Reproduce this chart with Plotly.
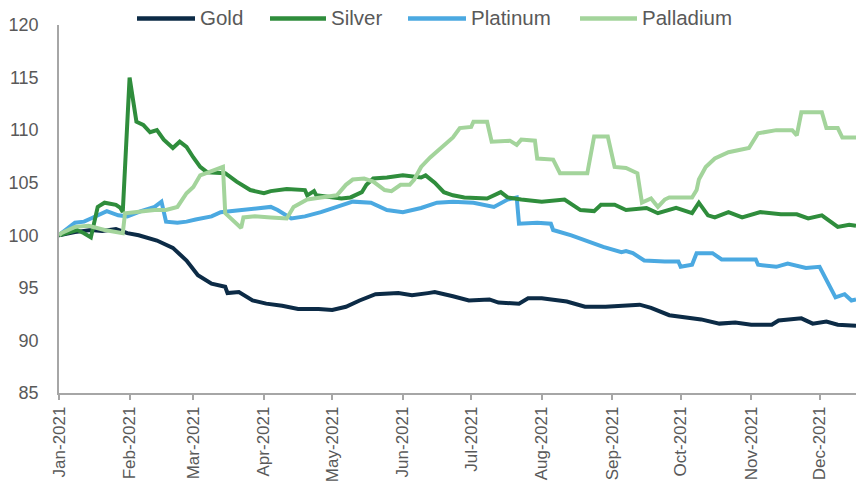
import plotly.graph_objects as go

# ---------------- data ----------------
gold_dates = ["2021-01-01","2021-01-08","2021-01-15","2021-01-20","2021-01-26","2021-01-31",
    "2021-02-05","2021-02-13","2021-02-20","2021-02-26","2021-03-03","2021-03-09","2021-03-15",
    "2021-03-16","2021-03-21","2021-03-27","2021-04-02","2021-04-09","2021-04-16","2021-04-25",
    "2021-05-01","2021-05-07","2021-05-13","2021-05-20","2021-05-30","2021-06-05","2021-06-12",
    "2021-06-15","2021-06-23","2021-06-30","2021-07-09","2021-07-13","2021-07-22","2021-07-26",
    "2021-08-01","2021-08-12","2021-08-20","2021-08-29","2021-09-13","2021-09-18","2021-09-26",
    "2021-10-03","2021-10-10","2021-10-18","2021-10-25","2021-11-01","2021-11-10","2021-11-13",
    "2021-11-23","2021-11-28","2021-12-04","2021-12-09","2021-12-15","2021-12-17"]
gold_values = [100.0,100.3,100.5,100.4,100.6,100.2,
    100.0,99.5,98.8,97.6,96.2,95.4,95.1,
    94.5,94.6,93.8,93.5,93.3,93.0,93.0,
    92.9,93.2,93.8,94.4,94.5,94.3,94.5,
    94.6,94.2,93.8,93.9,93.6,93.5,94.0,
    94.0,93.7,93.2,93.2,93.4,93.1,92.4,
    92.2,92.0,91.6,91.7,91.5,91.5,91.9,
    92.1,91.6,91.8,91.5,91.4,91.4]

silver_dates = ["2021-01-01","2021-01-09","2021-01-12","2021-01-15","2021-01-18","2021-01-21",
    "2021-01-26","2021-01-28","2021-01-29","2021-02-01","2021-02-04","2021-02-07","2021-02-10",
    "2021-02-13","2021-02-16","2021-02-20","2021-02-23","2021-02-26","2021-03-01","2021-03-04",
    "2021-03-07","2021-03-13","2021-03-15","2021-03-20","2021-03-26","2021-04-01","2021-04-04",
    "2021-04-11","2021-04-19","2021-04-20","2021-04-23","2021-04-24","2021-05-03","2021-05-05",
    "2021-05-09","2021-05-14","2021-05-16","2021-05-19","2021-05-25","2021-06-01","2021-06-09",
    "2021-06-11","2021-06-15","2021-06-19","2021-06-23","2021-06-28","2021-07-08","2021-07-14",
    "2021-07-17","2021-07-23","2021-08-01","2021-08-11","2021-08-18","2021-08-24","2021-08-27",
    "2021-09-02","2021-09-07","2021-09-16","2021-09-21","2021-09-24","2021-09-29","2021-10-06",
    "2021-10-09","2021-10-13","2021-10-16","2021-10-22","2021-10-28","2021-11-05","2021-11-14",
    "2021-11-21","2021-11-26","2021-12-02","2021-12-09","2021-12-14","2021-12-17"]
silver_values = [100.0,100.5,100.2,99.8,102.7,103.1,
    102.9,102.6,102.2,115.0,110.8,110.5,109.8,
    110.0,109.1,108.3,108.9,108.4,107.4,106.5,
    106.0,105.9,105.9,105.1,104.3,104.0,104.2,
    104.4,104.3,103.8,104.2,103.8,103.6,103.5,
    103.6,104.1,104.8,105.4,105.5,105.7,105.5,
    105.7,105.0,104.1,103.8,103.6,103.5,104.1,
    103.6,103.4,103.2,103.4,102.4,102.3,102.9,
    102.9,102.4,102.6,102.1,102.3,102.6,102.1,
    103.1,101.9,101.7,102.2,101.7,102.2,102.0,
    102.0,101.6,101.9,100.8,101.0,100.9]

platinum_dates = ["2021-01-01","2021-01-02","2021-01-08","2021-01-12","2021-01-15","2021-01-20",
    "2021-01-22","2021-01-27","2021-01-31","2021-02-06","2021-02-12","2021-02-15","2021-02-17",
    "2021-02-22","2021-02-26","2021-03-02","2021-03-09","2021-03-13","2021-03-22","2021-03-28",
    "2021-04-04","2021-04-07","2021-04-13","2021-04-19","2021-04-26","2021-05-03","2021-05-10",
    "2021-05-18","2021-05-25","2021-06-01","2021-06-09","2021-06-16","2021-06-23","2021-07-02",
    "2021-07-11","2021-07-17","2021-07-21","2021-07-22","2021-07-30","2021-08-05","2021-08-06",
    "2021-08-14","2021-08-21","2021-08-28","2021-09-05","2021-09-07","2021-09-10","2021-09-15",
    "2021-09-24","2021-09-30","2021-10-01","2021-10-06","2021-10-08","2021-10-15","2021-10-19",
    "2021-11-03","2021-11-04","2021-11-12","2021-11-17","2021-11-25","2021-12-01","2021-12-08",
    "2021-12-12","2021-12-15","2021-12-17"]
platinum_values = [100.0,100.2,101.2,101.3,101.6,102.1,
    102.3,101.9,101.8,102.3,102.7,103.2,101.3,
    101.2,101.3,101.5,101.8,102.2,102.4,102.6,
    102.7,102.4,101.6,101.8,102.2,102.7,103.2,
    103.1,102.4,102.2,102.6,103.1,103.2,103.1,
    102.7,103.4,103.6,101.1,101.2,101.1,100.5,
    100.0,99.4,98.9,98.4,98.5,98.3,97.6,
    97.5,97.5,97.0,97.2,98.3,98.3,97.7,
    97.7,97.2,97.0,97.3,96.9,97.0,94.1,
    94.4,93.8,93.9]

palladium_dates = ["2021-01-01","2021-01-02","2021-01-08","2021-01-14","2021-01-21","2021-01-29",
    "2021-01-30","2021-02-06","2021-02-12","2021-02-17","2021-02-22","2021-02-26","2021-03-01",
    "2021-03-04","2021-03-10","2021-03-14","2021-03-15","2021-03-18","2021-03-22","2021-03-23",
    "2021-03-28","2021-04-04","2021-04-11","2021-04-14","2021-04-20","2021-04-26","2021-05-03",
    "2021-05-07","2021-05-10","2021-05-15","2021-05-19","2021-05-24","2021-05-27","2021-05-31",
    "2021-06-04","2021-06-06","2021-06-09","2021-06-13","2021-06-18","2021-06-23","2021-06-26",
    "2021-07-01","2021-07-02","2021-07-08","2021-07-10","2021-07-18","2021-07-21","2021-07-23",
    "2021-07-29","2021-07-30","2021-08-06","2021-08-09","2021-08-21","2021-08-24","2021-08-30",
    "2021-09-02","2021-09-07","2021-09-12","2021-09-14","2021-09-18","2021-09-21","2021-09-24",
    "2021-09-26","2021-10-06","2021-10-08","2021-10-09","2021-10-12","2021-10-16","2021-10-22",
    "2021-10-31","2021-11-04","2021-11-12","2021-11-19","2021-11-21","2021-11-23","2021-12-02",
    "2021-12-04","2021-12-09","2021-12-11","2021-12-17"]
palladium_values = [100.0,100.2,100.8,100.9,100.5,100.2,
    102.1,102.3,102.4,102.4,102.7,104.0,104.6,
    105.7,106.2,106.5,102.1,101.5,100.7,101.7,
    101.8,101.7,101.6,102.7,103.4,103.6,103.8,
    104.8,105.3,105.4,105.1,104.3,104.2,104.8,
    104.8,105.3,106.5,107.4,108.3,109.3,110.2,
    110.3,110.8,110.8,108.9,109.0,108.6,109.1,
    109.0,107.3,107.2,105.9,105.9,109.4,109.4,
    106.5,106.4,105.9,103.1,103.5,102.7,103.4,
    103.6,103.6,104.3,105.3,106.5,107.3,107.9,
    108.3,109.7,110.0,110.0,109.5,111.7,111.7,
    110.2,110.2,109.3,109.3]

series_names = ["Gold", "Silver", "Platinum", "Palladium"]
month_ticks = ["2021-01-01","2021-02-01","2021-03-01","2021-04-01","2021-05-01","2021-06-01",
    "2021-07-01","2021-08-01","2021-09-01","2021-10-01","2021-11-01","2021-12-01"]
month_labels = ["Jan-2021","Feb-2021","Mar-2021","Apr-2021","May-2021","Jun-2021",
    "Jul-2021","Aug-2021","Sep-2021","Oct-2021","Nov-2021","Dec-2021"]
y_ticks = [85, 90, 95, 100, 105, 110, 115, 120]

# ---------------- styling / layout ----------------
colors = {"Gold": "#0c2b46", "Silver": "#2f8d3c", "Platinum": "#4ba9e1", "Palladium": "#a3d49b"}
data = {"Gold": (gold_dates, gold_values), "Silver": (silver_dates, silver_values),
        "Platinum": (platinum_dates, platinum_values), "Palladium": (palladium_dates, palladium_values)}

W, H = 856, 481
ML, MR, MT, MB = 59, 0, 25, 88
PW, PH = W - ML - MR, H - MT - MB
font_col = "#595959"
FONT = "Liberation Sans, Arial, sans-serif"

fig = go.Figure()
# draw order like the reference: gold, platinum, silver, palladium on top
for name in ["Gold", "Platinum", "Silver", "Palladium"]:
    d, v = data[name]
    fig.add_trace(go.Scatter(x=d, y=v, name=name, mode="lines",
                             line=dict(color=colors[name], width=4), showlegend=False))

# manual legend (long swatches, as in the reference); positions given in screen pixels
def px(xs):
    return (xs - ML) / PW

def py(ys):
    return (H - MB - ys) / PH

legend_pos = [(137, 195, 198), (270, 326, 329), (408, 466, 469), (580, 637, 640)]
shapes, annotations = [], []
for name, (s0, s1, tx) in zip(series_names, legend_pos):
    shapes.append(dict(type="line", xref="paper", yref="paper",
                       x0=px(s0), x1=px(s1), y0=py(18.5), y1=py(18.5),
                       line=dict(color=colors[name], width=4.5)))
    annotations.append(dict(text=name, xref="paper", yref="paper", x=px(tx), y=py(18),
                            xanchor="left", yanchor="middle", showarrow=False,
                            font=dict(family=FONT, size=20.5, color=font_col)))

fig.update_layout(
    width=W, height=H,
    margin=dict(l=ML, r=MR, t=MT, b=MB),
    paper_bgcolor="white", plot_bgcolor="white",
    font=dict(family=FONT, size=17, color=font_col),
    showlegend=False,
    shapes=shapes, annotations=annotations,
    xaxis=dict(type="date", range=["2021-01-01", "2021-12-17"], automargin=False,
               tickmode="array", tickvals=month_ticks, ticktext=month_labels,
               tickangle=-90, ticks="outside", ticklen=5, tickcolor="#a6a6a6", tickwidth=1.5,
               showline=True, linecolor="#a6a6a6", linewidth=1.5,
               showgrid=False, zeroline=False, tickfont=dict(size=17, color=font_col)),
    yaxis=dict(range=[85, 120], tickvals=y_ticks, showline=True, linecolor="#a6a6a6",
               linewidth=1.5, showgrid=False, zeroline=False, ticks="", automargin=False,
               ticklabelstandoff=15, tickfont=dict(size=18, color=font_col)),
)

# remove the browser's default 8px body margin so the figure fills the window exactly
fig.write_html("out.html", config={"displayModeBar": False},
               post_script="document.body.style.margin='0';document.body.style.overflow='hidden';")
